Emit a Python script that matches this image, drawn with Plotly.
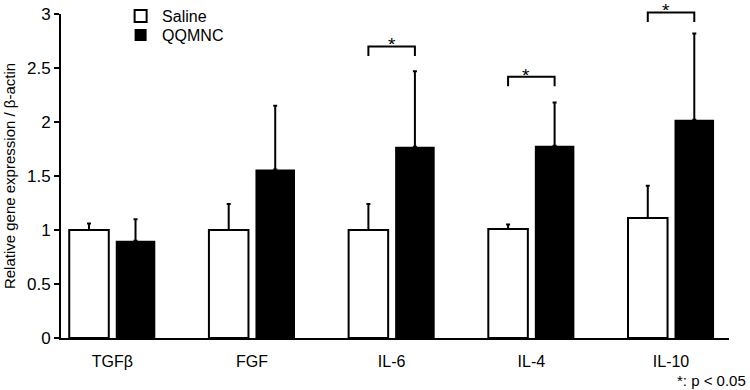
import plotly.graph_objects as go

categories = ["TGFβ", "FGF", "IL-6", "IL-4", "IL-10"]
saline_mean = [1.00, 1.00, 1.00, 1.01, 1.11]
saline_err = [0.06, 0.24, 0.24, 0.04, 0.30]
qqmnc_mean = [0.90, 1.56, 1.77, 1.78, 2.02]
qqmnc_err = [0.20, 0.59, 0.70, 0.40, 0.80]
sig_categories = ["IL-6", "IL-4", "IL-10"]
bracket_top = [2.70, 2.42, 3.015]
bracket_drop = 0.09
y_ticks = [0, 0.5, 1, 1.5, 2, 2.5, 3]
y_ticktext = ["0", "0.5", "1", "1.5", "2", "2.5", "3"]

FONT = "Liberation Sans, Arial, sans-serif"
BARGAP = 0.334
BARGROUPGAP = 0.15
XR = [-0.367, 4.415]
YR = [0, 3]

fig = go.Figure()
fig.add_trace(go.Bar(
    name="Saline", x=categories, y=saline_mean, legend="legend",
    marker=dict(color="white", line=dict(color="black", width=2)),
    error_y=dict(type="data", array=saline_err, arrayminus=[0] * len(saline_err),
                 symmetric=False, color="black", thickness=2, width=2),
))
fig.add_trace(go.Bar(
    name="QQMNC", x=categories, y=qqmnc_mean, legend="legend2",
    marker=dict(color="black", line=dict(color="black", width=0)),
    error_y=dict(type="data", array=qqmnc_err, arrayminus=[0] * len(qqmnc_err),
                 symmetric=False, color="black", thickness=2, width=2),
))

def xdom(v):
    return (v - XR[0]) / (XR[1] - XR[0])

def ydom(v):
    return (v - YR[0]) / (YR[1] - YR[0])

slot = (1 - BARGAP) / 2
off = slot / 2
for cat, top in zip(sig_categories, bracket_top):
    i = categories.index(cat)
    x0, x1 = i - off, i + off
    fig.add_shape(type="path",
                  path=f"M {xdom(x0)} {ydom(top - bracket_drop)} L {xdom(x0)} {ydom(top)} "
                       f"L {xdom(x1)} {ydom(top)} L {xdom(x1)} {ydom(top - bracket_drop)}",
                  xref="x domain", yref="y domain",
                  line=dict(color="black", width=2))
    fig.add_annotation(x=xdom(i), y=ydom(top), xref="x domain", yref="y domain", text="*",
                       showarrow=False, yanchor="bottom", yshift=1, height=10,
                       valign="top", borderpad=0,
                       font=dict(size=19, color="black", family=FONT))

fig.add_annotation(x=1, y=-0.13, xref="paper", yref="paper", xanchor="right", yanchor="middle",
                   xshift=19, text="*: p < 0.05", showarrow=False,
                   font=dict(size=15, color="black", family=FONT))

legend_style = dict(xanchor="left", yanchor="top", bgcolor="rgba(0,0,0,0)",
                    itemwidth=33, font=dict(size=16, family=FONT))

fig.update_layout(
    width=750, height=390,
    margin=dict(l=61, r=21, t=14, b=52, autoexpand=False),
    paper_bgcolor="white", plot_bgcolor="white",
    barmode="group", bargap=BARGAP, bargroupgap=BARGROUPGAP,
    font=dict(family=FONT, size=16, color="black"),
    showlegend=True,
    legend=dict(x=0.087, y=1.046, **legend_style),
    legend2=dict(x=0.087, y=0.987, **legend_style),
    xaxis=dict(range=XR, showline=True, linecolor="black", linewidth=2,
               ticks="", showgrid=False, zeroline=False, ticklabelstandoff=8,
               tickfont=dict(size=16, family=FONT)),
    yaxis=dict(range=YR, showline=True, linecolor="black", linewidth=2,
               ticks="outside", ticklen=5, tickwidth=2, tickcolor="black",
               tickvals=y_ticks, ticktext=y_ticktext, showgrid=False, zeroline=False,
               tickfont=dict(size=17, family=FONT),
               title=dict(text="Relative gene expression / β-actin", standoff=8,
                          font=dict(size=15, family=FONT))),
)

fig.write_html("out.html", config={"displayModeBar": False},
               post_script="document.body.style.margin='0';")
